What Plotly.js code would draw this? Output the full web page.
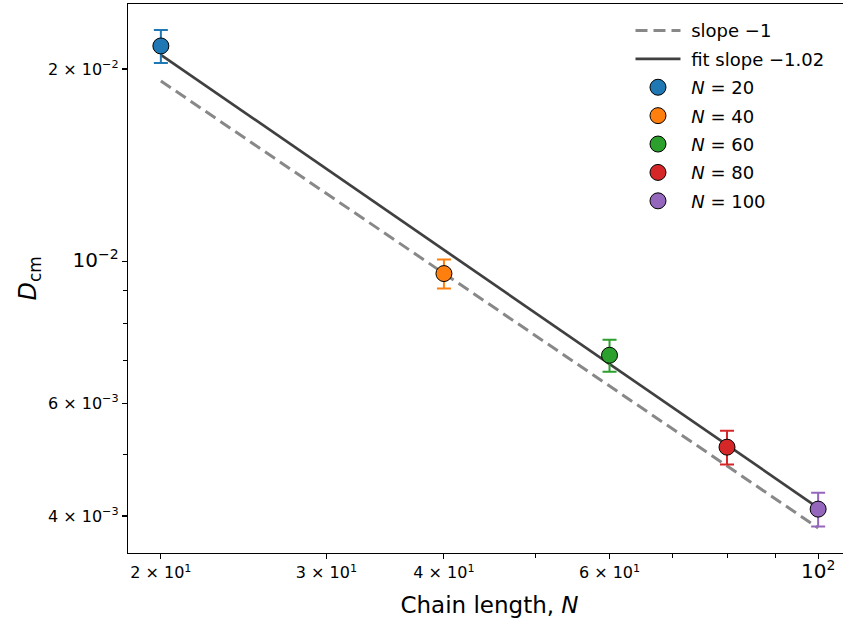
<!DOCTYPE html>
<html>
<head>
<meta charset="utf-8">
<script src="https://cdn.plot.ly/plotly-3.0.1.min.js"></script>
<style>
  html, body { margin: 0; padding: 0; overflow: hidden; background: #fff; }
  #chart { width: 860px; height: 619px; }
</style>
</head>
<body>
<div id="chart"></div>
<script>
// ---- data ----
const chainN = [20, 40, 60, 80, 100];
const diffusion = [0.02173, 0.009575, 0.007135, 0.005125, 0.0041];
const diffusionErr = [0.00129, 0.0005, 0.00041, 0.00031, 0.00025];
const pointColors = ['#1f77b4', '#ff7f0e', '#2ca02c', '#d62728', '#9467bd'];
const pointLabels = ['<i>N</i> = 20', '<i>N</i> = 40', '<i>N</i> = 60', '<i>N</i> = 80', '<i>N</i> = 100'];

const refLineN = [20, 100];
const refLineD = [0.01916, 0.003832];      // slope -1
const fitLineN = [20, 100];
const fitLineD = [0.02105, 0.00412];       // fit slope -1.02

const xTickVals = [20, 30, 40, 60, 100];
const xTickText = ['2 × 10<sup>1</sup>', '3 × 10<sup>1</sup>', '4 × 10<sup>1</sup>', '6 × 10<sup>1</sup>', '<span style="font-size:20px">10<sup>2</sup></span>'];
const xMinorVals = [50, 70, 80, 90];
const yTickVals = [0.004, 0.006, 0.01, 0.02];
const yTickText = ['4 × 10<sup>−3</sup>', '6 × 10<sup>−3</sup>', '<span style="font-size:20px">10<sup>−2</sup></span>', '2 × 10<sup>−2</sup>'];
const yMinorVals = [0.005, 0.007, 0.008, 0.009];

const FONT = 'DejaVu Sans, sans-serif';
const PAD = '\u00a0';

const traces = [
  {
    x: refLineN, y: refLineD, mode: 'lines', name: PAD + 'slope −1',
    line: { color: '#888888', width: 3, dash: '12px,6px' },
    legendgroup: 'a'
  },
  {
    x: fitLineN, y: fitLineD, mode: 'lines', name: PAD + 'fit slope −1.02',
    line: { color: '#404040', width: 2.7 },
    legendgroup: 'b'
  }
];
chainN.forEach((n, i) => {
  traces.push({
    x: [n], y: [diffusion[i]], mode: 'markers', name: PAD + pointLabels[i],
    legendgroup: 'p' + i,
    marker: { color: pointColors[i], size: 16, line: { color: '#000', width: 1 } },
    error_y: { type: 'data', array: [diffusionErr[i]], visible: true,
               color: pointColors[i], thickness: 2, width: 7 }
  });
});

const layout = {
  width: 860, height: 619,
  margin: { l: 128, r: 9, t: 4, b: 66 },
  paper_bgcolor: '#fff', plot_bgcolor: '#fff',
  font: { family: FONT, color: '#000', size: 16 },
  showlegend: true,
  legend: {
    x: 0.695, y: 0.985, xanchor: 'left', yanchor: 'top',
    font: { family: FONT, size: 18, color: '#000' },
    bgcolor: 'rgba(255,255,255,0)', borderwidth: 0,
    itemwidth: 45, tracegroupgap: 2
  },
  xaxis: {
    type: 'log', range: [1.26608, 2.03495],
    showgrid: false, zeroline: false,
    showline: true, linecolor: '#000', linewidth: 1.2, mirror: true,
    ticks: 'outside', ticklen: 5, tickwidth: 1.1, tickcolor: '#000',
    tickmode: 'array', tickvals: xTickVals, ticktext: xTickText,
    tickfont: { family: FONT, size: 16, color: '#000' },
    minor: { tickmode: 'array', tickvals: xMinorVals, ticks: 'outside', ticklen: 3.5, tickwidth: 1, tickcolor: '#000', showgrid: false },
    title: { text: 'Chain length, <i>N</i>', font: { family: FONT, size: 23, color: '#000' }, standoff: 14 }
  },
  yaxis: {
    type: 'log', range: [-2.4558, -1.59733],
    showgrid: false, zeroline: false,
    showline: true, linecolor: '#000', linewidth: 1.2, mirror: true,
    ticks: 'outside', ticklen: 5, tickwidth: 1.1, tickcolor: '#000',
    tickmode: 'array', tickvals: yTickVals, ticktext: yTickText,
    tickfont: { family: FONT, size: 16, color: '#000' },
    minor: { tickmode: 'array', tickvals: yMinorVals, ticks: 'outside', ticklen: 3.5, tickwidth: 1, tickcolor: '#000', showgrid: false },
    title: { text: '<i>D</i><sub>cm</sub>', font: { family: FONT, size: 24, color: '#000' }, standoff: 4 }
  }
};

Plotly.newPlot('chart', traces, layout, { staticPlot: true, displayModeBar: false });
</script>
</body>
</html>
